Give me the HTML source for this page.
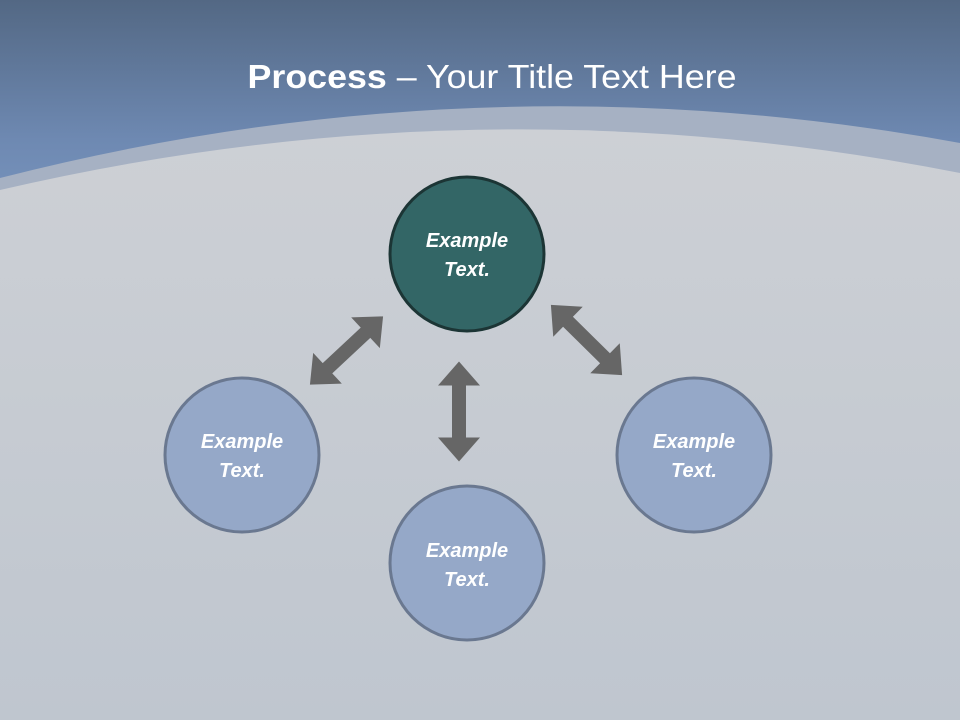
<!DOCTYPE html>
<html><head><meta charset="utf-8"><style>html,body{margin:0;padding:0;}svg{display:block;}</style></head>
<body>
<svg width="960" height="720" viewBox="0 0 960 720" xmlns="http://www.w3.org/2000/svg">
<defs>
<linearGradient id="top" x1="0" y1="0" x2="0" y2="200" gradientUnits="userSpaceOnUse">
<stop offset="0" stop-color="#536884"/><stop offset="0.7" stop-color="#6e89b2"/><stop offset="1" stop-color="#7692bb"/>
</linearGradient>
<linearGradient id="bg" x1="0" y1="0" x2="0" y2="1">
<stop offset="0" stop-color="#cdd0d5"/><stop offset="1" stop-color="#bfc6cf"/>
</linearGradient>
</defs>
<rect width="960" height="720" fill="url(#top)"/>
<path d="M0,178 Q480,55 960,143 L960,720 L0,720 Z" fill="#a6b1c3"/>
<path d="M0,190 Q480,78 960,173 L960,720 L0,720 Z" fill="url(#bg)"/>
<text x="492" y="88" text-anchor="middle" fill="#fff" font-family="Liberation Sans, sans-serif" font-size="33" textLength="489" lengthAdjust="spacingAndGlyphs"><tspan font-weight="bold">Process</tspan> – Your Title Text Here</text>
<g fill="#666666">
<path d="M-50,0 L-26,-21 L-26,-7 L26,-7 L26,-21 L50,0 L26,21 L26,7 L-26,7 L-26,21 Z" transform="translate(459,411.5) rotate(90)"/>
<path d="M-50,0 L-26,-21 L-26,-7 L26,-7 L26,-21 L50,0 L26,21 L26,7 L-26,7 L-26,21 Z" transform="translate(346.5,350.5) rotate(-43)"/>
<path d="M-50,0 L-26,-21 L-26,-7 L26,-7 L26,-21 L50,0 L26,21 L26,7 L-26,7 L-26,21 Z" transform="translate(586.5,340) rotate(44.6)"/>
</g>
<circle cx="467" cy="254" r="77" fill="#336666" stroke="#1c3535" stroke-width="3"/>
<circle cx="242" cy="455" r="77" fill="#95a8c8" stroke="#6a7890" stroke-width="3"/>
<circle cx="467" cy="563" r="77" fill="#95a8c8" stroke="#6a7890" stroke-width="3"/>
<circle cx="694" cy="455" r="77" fill="#95a8c8" stroke="#6a7890" stroke-width="3"/>
<g fill="#fff" font-family="Liberation Sans, sans-serif" font-size="20" font-weight="bold" font-style="italic" text-anchor="middle">
<text x="467" y="247">Example</text><text x="467" y="276">Text.</text>
<text x="242" y="448">Example</text><text x="242" y="477">Text.</text>
<text x="467" y="557">Example</text><text x="467" y="586">Text.</text>
<text x="694" y="448">Example</text><text x="694" y="477">Text.</text>
</g>
</svg>
</body></html>
